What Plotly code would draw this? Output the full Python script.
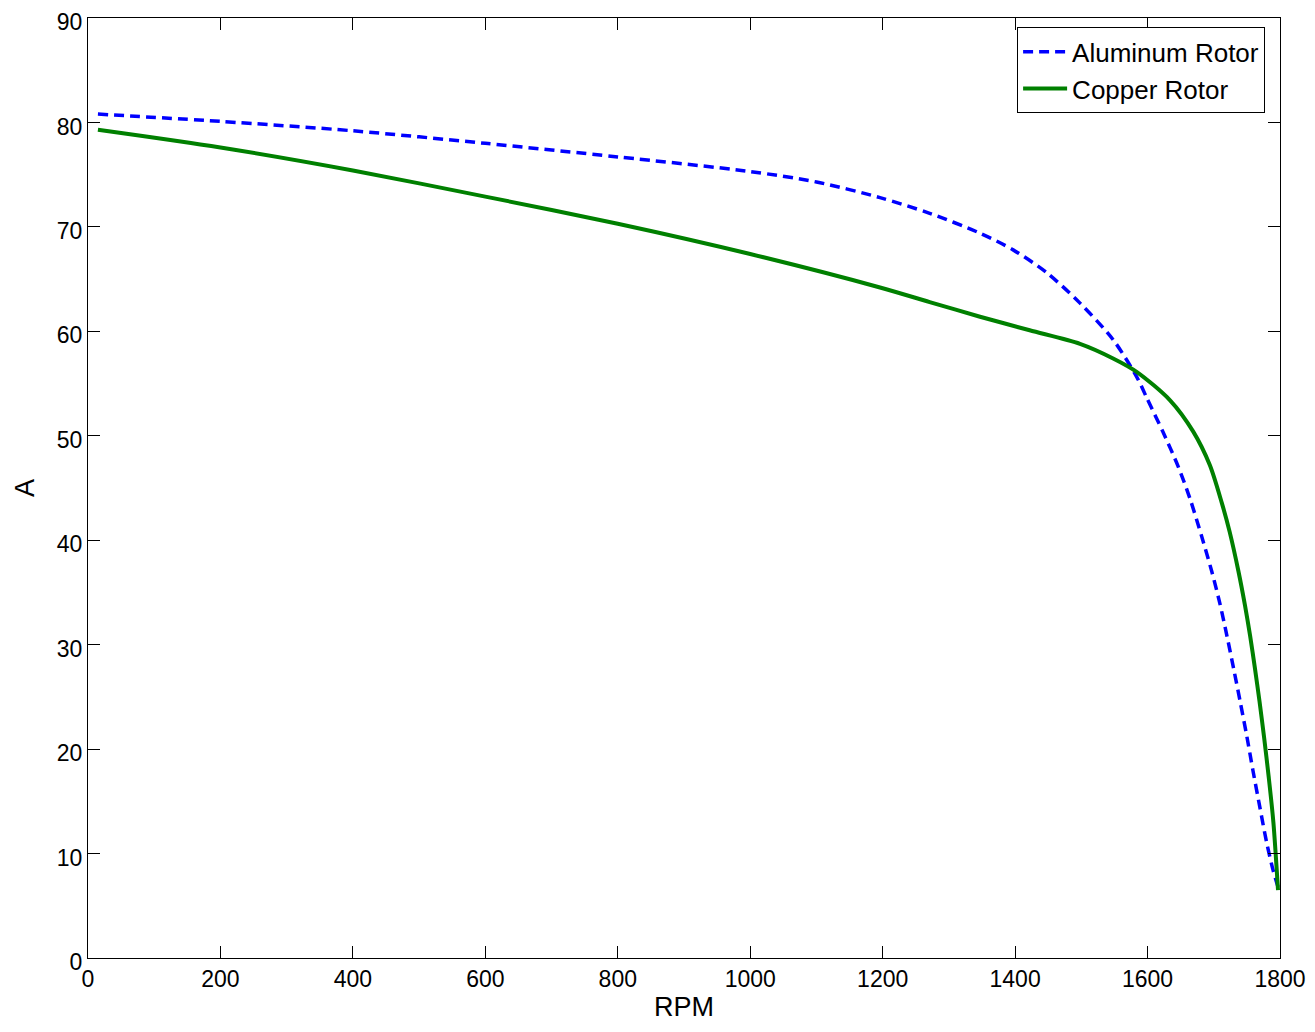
import plotly.graph_objects as go

rpm_al = [15, 200, 400, 600, 800, 1000, 1100, 1196, 1271, 1347, 1397, 1448, 1498, 1548, 1584, 1599,
          1623, 1646, 1664, 1682, 1697, 1709, 1720, 1730, 1740, 1750, 1759, 1770, 1780, 1790, 1797]
amp_al = [80.8, 80.1, 79.2, 78.0, 76.7, 75.3, 74.3, 72.8, 71.3, 69.4, 67.8, 65.6, 62.7, 59.2, 55.6, 53.6,
          50.4, 47.1, 44.0, 40.3, 37.0, 34.0, 30.8, 27.7, 24.5, 21.2, 18.0, 14.3, 11.0, 8.3, 6.8]

rpm_cu = [15, 200, 400, 600, 800, 1000, 1196, 1271, 1347, 1422, 1498, 1548, 1584, 1634, 1669, 1694,
          1712, 1724, 1737, 1747, 1755, 1762, 1769, 1776, 1783, 1790, 1797]
amp_cu = [79.3, 77.6, 75.4, 72.9, 70.3, 67.4, 64.2, 62.8, 61.4, 60.1, 58.8, 57.4, 56.1, 53.4, 50.4, 47.2,
          43.6, 40.8, 37.1, 33.8, 30.8, 27.8, 24.6, 21.1, 17.3, 13.0, 6.5]

x_ticks = [0, 200, 400, 600, 800, 1000, 1200, 1400, 1600, 1800]
y_ticks = [0, 10, 20, 30, 40, 50, 60, 70, 80, 90]

FONT = "Liberation Sans, Arial, sans-serif"

fig = go.Figure()
fig.add_trace(go.Scatter(x=rpm_al, y=amp_al, mode="lines", name="Aluminum Rotor",
                         line=dict(color="#0000ff", width=3.5, dash="10px,6px", shape="spline", smoothing=0.8)))
fig.add_trace(go.Scatter(x=rpm_cu, y=amp_cu, mode="lines", name="Copper Rotor",
                         line=dict(color="#008000", width=4, shape="spline", smoothing=0.8)))

axis_common = dict(showgrid=False, zeroline=False, showline=True, linecolor="black", linewidth=1,
                   mirror="allticks", ticks="inside", ticklen=12, tickcolor="black", automargin=False,
                   ticklabeloverflow="allow",
                   tickfont=dict(family=FONT, size=23, color="black"))

fig.update_xaxes(range=[0, 1800], tickvals=x_ticks, title=dict(text="RPM", standoff=6,
                 font=dict(family=FONT, size=27, color="black")), **axis_common)
fig.update_yaxes(range=[0, 90], tickvals=y_ticks, ticklabelshift=4, title=dict(text="A", standoff=14,
                 font=dict(family=FONT, size=27, color="black")), **axis_common)

fig.update_layout(
    width=1315, height=1032,
    margin=dict(l=80, r=43, t=10, b=82),
    plot_bgcolor="white", paper_bgcolor="white",
    font=dict(family=FONT, size=23, color="black"),
    legend=dict(x=0.9875, y=0.99, xanchor="right", yanchor="top", bgcolor="white",
                bordercolor="black", borderwidth=1, font=dict(size=26), itemwidth=44, tracegroupgap=0),
)

fig.write_html("out.html")
